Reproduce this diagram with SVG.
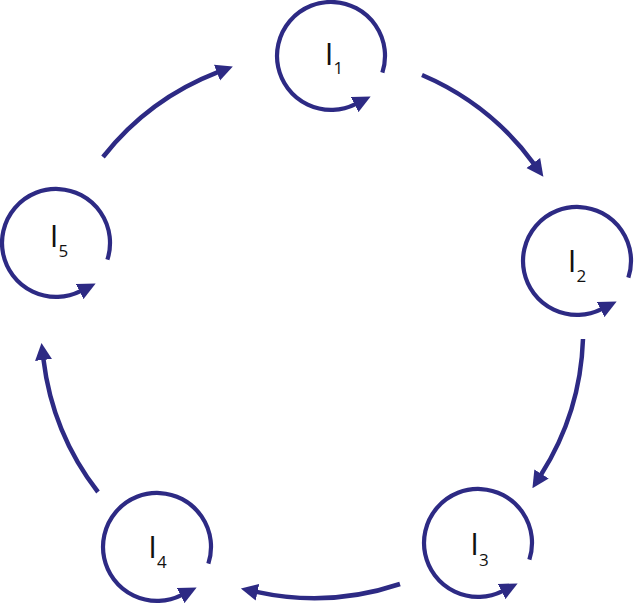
<svg xmlns="http://www.w3.org/2000/svg" width="634" height="605" viewBox="0 0 634 605">
  <style>
    .loop { fill: none; stroke: #2d2a84; stroke-width: 4.2; marker-end: url(#ah); }
    .conn { fill: none; stroke: #2d2a84; stroke-width: 4.5; marker-end: url(#ah2); }
    .lbl { font-family: "Open Sans", "Liberation Sans", sans-serif; font-size: 31px; fill: #111; }
    .sub { font-size: 17px; }
  </style>
  <defs>
    <marker id="ah" viewBox="0 -9 18 18" refX="1" refY="0" markerWidth="18" markerHeight="18" markerUnits="userSpaceOnUse" orient="auto">
      <path d="M0,-8.5 L18,0 L0,8.5 z" fill="#2d2a84"/>
    </marker>
    <marker id="ah2" viewBox="0 -9 17 18" refX="1" refY="0" markerWidth="17" markerHeight="18" markerUnits="userSpaceOnUse" orient="auto">
      <path d="M0,-8.5 L17,0 L0,8.5 z" fill="#2d2a84"/>
    </marker>
  </defs>

  <g id="connectors">
    <path class="conn" d="M103,157 A270,270 0 0 1 217.9,72.2"/>
    <path class="conn" d="M422,75 A270,270 0 0 1 533.9,163.8"/>
    <path class="conn" d="M583,339 A270,270 0 0 1 541.0,474.8"/>
    <path class="conn" d="M400,584 A270,270 0 0 1 256.5,591.9"/>
    <path class="conn" d="M98,492 A270,270 0 0 1 43.4,358.9"/>
  </g>

  <g id="node-I1" transform="translate(331,56)">
    <path class="loop" d="M51.36,16.69 A54,54 0 1 0 24.5,48.1"/>
    <text class="lbl" x="-6.2" y="9">I<tspan class="sub" dy="9">1</tspan></text>
  </g>
  <g id="node-I2" transform="translate(577,261)">
    <path class="loop" d="M51.36,16.69 A54,54 0 1 0 24.5,48.1"/>
    <text class="lbl" x="-9.2" y="11">I<tspan class="sub" dy="10">2</tspan></text>
  </g>
  <g id="node-I3" transform="translate(478,543)">
    <path class="loop" d="M51.36,16.69 A54,54 0 1 0 24.5,48.1"/>
    <text class="lbl" x="-7.7" y="12">I<tspan class="sub" dy="11">3</tspan></text>
  </g>
  <g id="node-I4" transform="translate(157,547)">
    <path class="loop" d="M51.36,16.69 A54,54 0 1 0 24.5,48.1"/>
    <text class="lbl" x="-8.7" y="11">I<tspan class="sub" dy="10">4</tspan></text>
  </g>
  <g id="node-I5" transform="translate(56,243)">
    <path class="loop" d="M51.36,16.69 A54,54 0 1 0 24.5,48.1"/>
    <text class="lbl" x="-6.2" y="4">I<tspan class="sub" dy="10">5</tspan></text>
  </g>
</svg>
